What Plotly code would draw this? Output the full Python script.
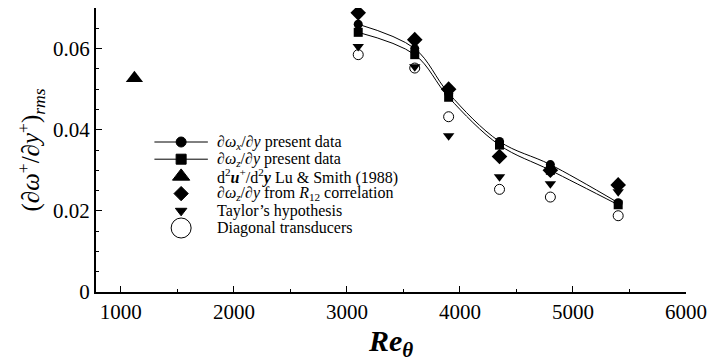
import plotly.graph_objects as go

# Reynolds numbers of the present measurements
re_theta = [3100, 3600, 3900, 4350, 4800, 5400]

# r.m.s. wall-normal vorticity gradients
dwx_dy = [0.066, 0.060, 0.049, 0.0371, 0.0314, 0.0220]
dwz_dy = [0.064, 0.0585, 0.048, 0.0362, 0.0300, 0.0215]
dwz_r12 = [0.0688, 0.0622, 0.0500, 0.0334, 0.0300, 0.0264]
taylor = [0.0605, 0.0555, 0.0385, 0.0284, 0.0267, 0.0247]
diagonal = [0.0585, 0.0552, 0.0432, 0.0253, 0.0234, 0.0188]

# Lu & Smith (1988) single point
lu_re = [1120]
lu_val = [0.0527]

# Legend entries (label, marker symbol, marker size, keyed with a line)
legend_labels = [
    "<i>∂ω</i><sub><i>x</i></sub>/<i>∂y</i> present data",
    "<i>∂ω</i><sub><i>z</i></sub>/<i>∂y</i> present data",
    "d<sup>2</sup><b><i>u</i></b><sup>+</sup>/d<sup>2</sup><b><i>y</i></b> Lu &amp; Smith (1988)",
    "<i>∂ω</i><sub><i>z</i></sub>/<i>∂y</i> from <i>R</i><sub>12</sub> correlation",
    "Taylor’s hypothesis",
    "Diagonal transducers",
]
legend_symbols = ["circle", "square", "triangle-up", "diamond", "triangle-down", "circle-open"]
legend_sizes = [10, 10, 15, 11, 10, 20]
legend_has_line = [True, True, False, False, False, False]

FONT = "Times New Roman, Liberation Serif, serif"

fig = go.Figure()

fig.add_trace(go.Scatter(
    x=re_theta, y=dwx_dy, mode="lines+markers",
    line=dict(color="black", width=1, shape="spline", smoothing=1.0),
    marker=dict(symbol="circle", size=9, color="black"), showlegend=False))

fig.add_trace(go.Scatter(
    x=re_theta, y=dwz_dy, mode="lines+markers",
    line=dict(color="black", width=1, shape="spline", smoothing=1.0),
    marker=dict(symbol="square", size=9, color="black"), showlegend=False))

fig.add_trace(go.Scatter(
    x=lu_re, y=lu_val, mode="markers",
    marker=dict(symbol="triangle-up", size=15, color="black"), showlegend=False))

fig.add_trace(go.Scatter(
    x=re_theta, y=dwz_r12, mode="markers",
    marker=dict(symbol="diamond", size=12, color="black"), showlegend=False))

fig.add_trace(go.Scatter(
    x=re_theta, y=taylor, mode="markers",
    marker=dict(symbol="triangle-down", size=10, color="black"), showlegend=False))

fig.add_trace(go.Scatter(
    x=re_theta, y=diagonal, mode="markers",
    marker=dict(symbol="circle-open", size=10, color="black", line=dict(width=1)),
    showlegend=False))

# Key block drawn on an overlay axis measured in screen pixels
KEY_TOP, KEY_STEP = 142, 17.2
KEY_X, LINE_X0, LINE_X1, TEXT_X = 182, 155, 209, 216
for i, (label, sym, size, has_line) in enumerate(
        zip(legend_labels, legend_symbols, legend_sizes, legend_has_line)):
    ky = KEY_TOP + i * KEY_STEP
    if has_line:
        fig.add_trace(go.Scatter(
            x=[LINE_X0, LINE_X1], y=[ky, ky], mode="lines", xaxis="x2", yaxis="y2",
            line=dict(color="black", width=1), showlegend=False, hoverinfo="skip"))
    fig.add_trace(go.Scatter(
        x=[KEY_X], y=[ky], mode="markers", xaxis="x2", yaxis="y2",
        marker=dict(symbol=sym, size=size, color="black", line=dict(width=1, color="black")),
        showlegend=False, hoverinfo="skip"))
    fig.add_annotation(
        x=TEXT_X, y=ky, xref="x2", yref="y2", text=label, showarrow=False,
        xanchor="left", yanchor="middle",
        font=dict(family=FONT, size=16, color="black"))

fig.update_layout(
    width=715, height=362,
    margin=dict(l=96, r=23, t=8, b=70),
    paper_bgcolor="white", plot_bgcolor="white",
    font=dict(family=FONT, color="black", size=14),
    showlegend=False,
    xaxis=dict(
        range=[780, 6000], tickvals=[1000, 2000, 3000, 4000, 5000, 6000],
        ticks="inside", ticklen=6, tickwidth=1, tickcolor="black",
        minor=dict(dtick=500, ticks="inside", ticklen=3, tickcolor="black"),
        showline=True, linecolor="black", linewidth=2,
        showgrid=False, zeroline=False,
        tickfont=dict(family=FONT, size=21),
        title=dict(text="<b><i>Re</i></b><sub><b><i>θ</i></b></sub>",
                   font=dict(family=FONT, size=30), standoff=4),
    ),
    yaxis=dict(
        range=[0, 0.07], tickvals=[0, 0.02, 0.04, 0.06],
        ticktext=["0", "0.02", "0.04", "0.06"],
        ticks="inside", ticklen=6, tickwidth=1, tickcolor="black",
        minor=dict(dtick=0.005, ticks="inside", ticklen=3, tickcolor="black"),
        showline=True, linecolor="black", linewidth=2,
        showgrid=False, zeroline=False,
        tickfont=dict(family=FONT, size=21),
        title=dict(text="(<i>∂ω</i><sup>+</sup>/<i>∂y</i><sup>+</sup>)<sub><i>rms</i></sub>",
                   font=dict(family=FONT, size=25), standoff=6),
    ),
    xaxis2=dict(overlaying="x", range=[96, 692], visible=False, fixedrange=True),
    yaxis2=dict(overlaying="y", range=[292, 8], visible=False, fixedrange=True),
)

fig.write_html("out.html")
